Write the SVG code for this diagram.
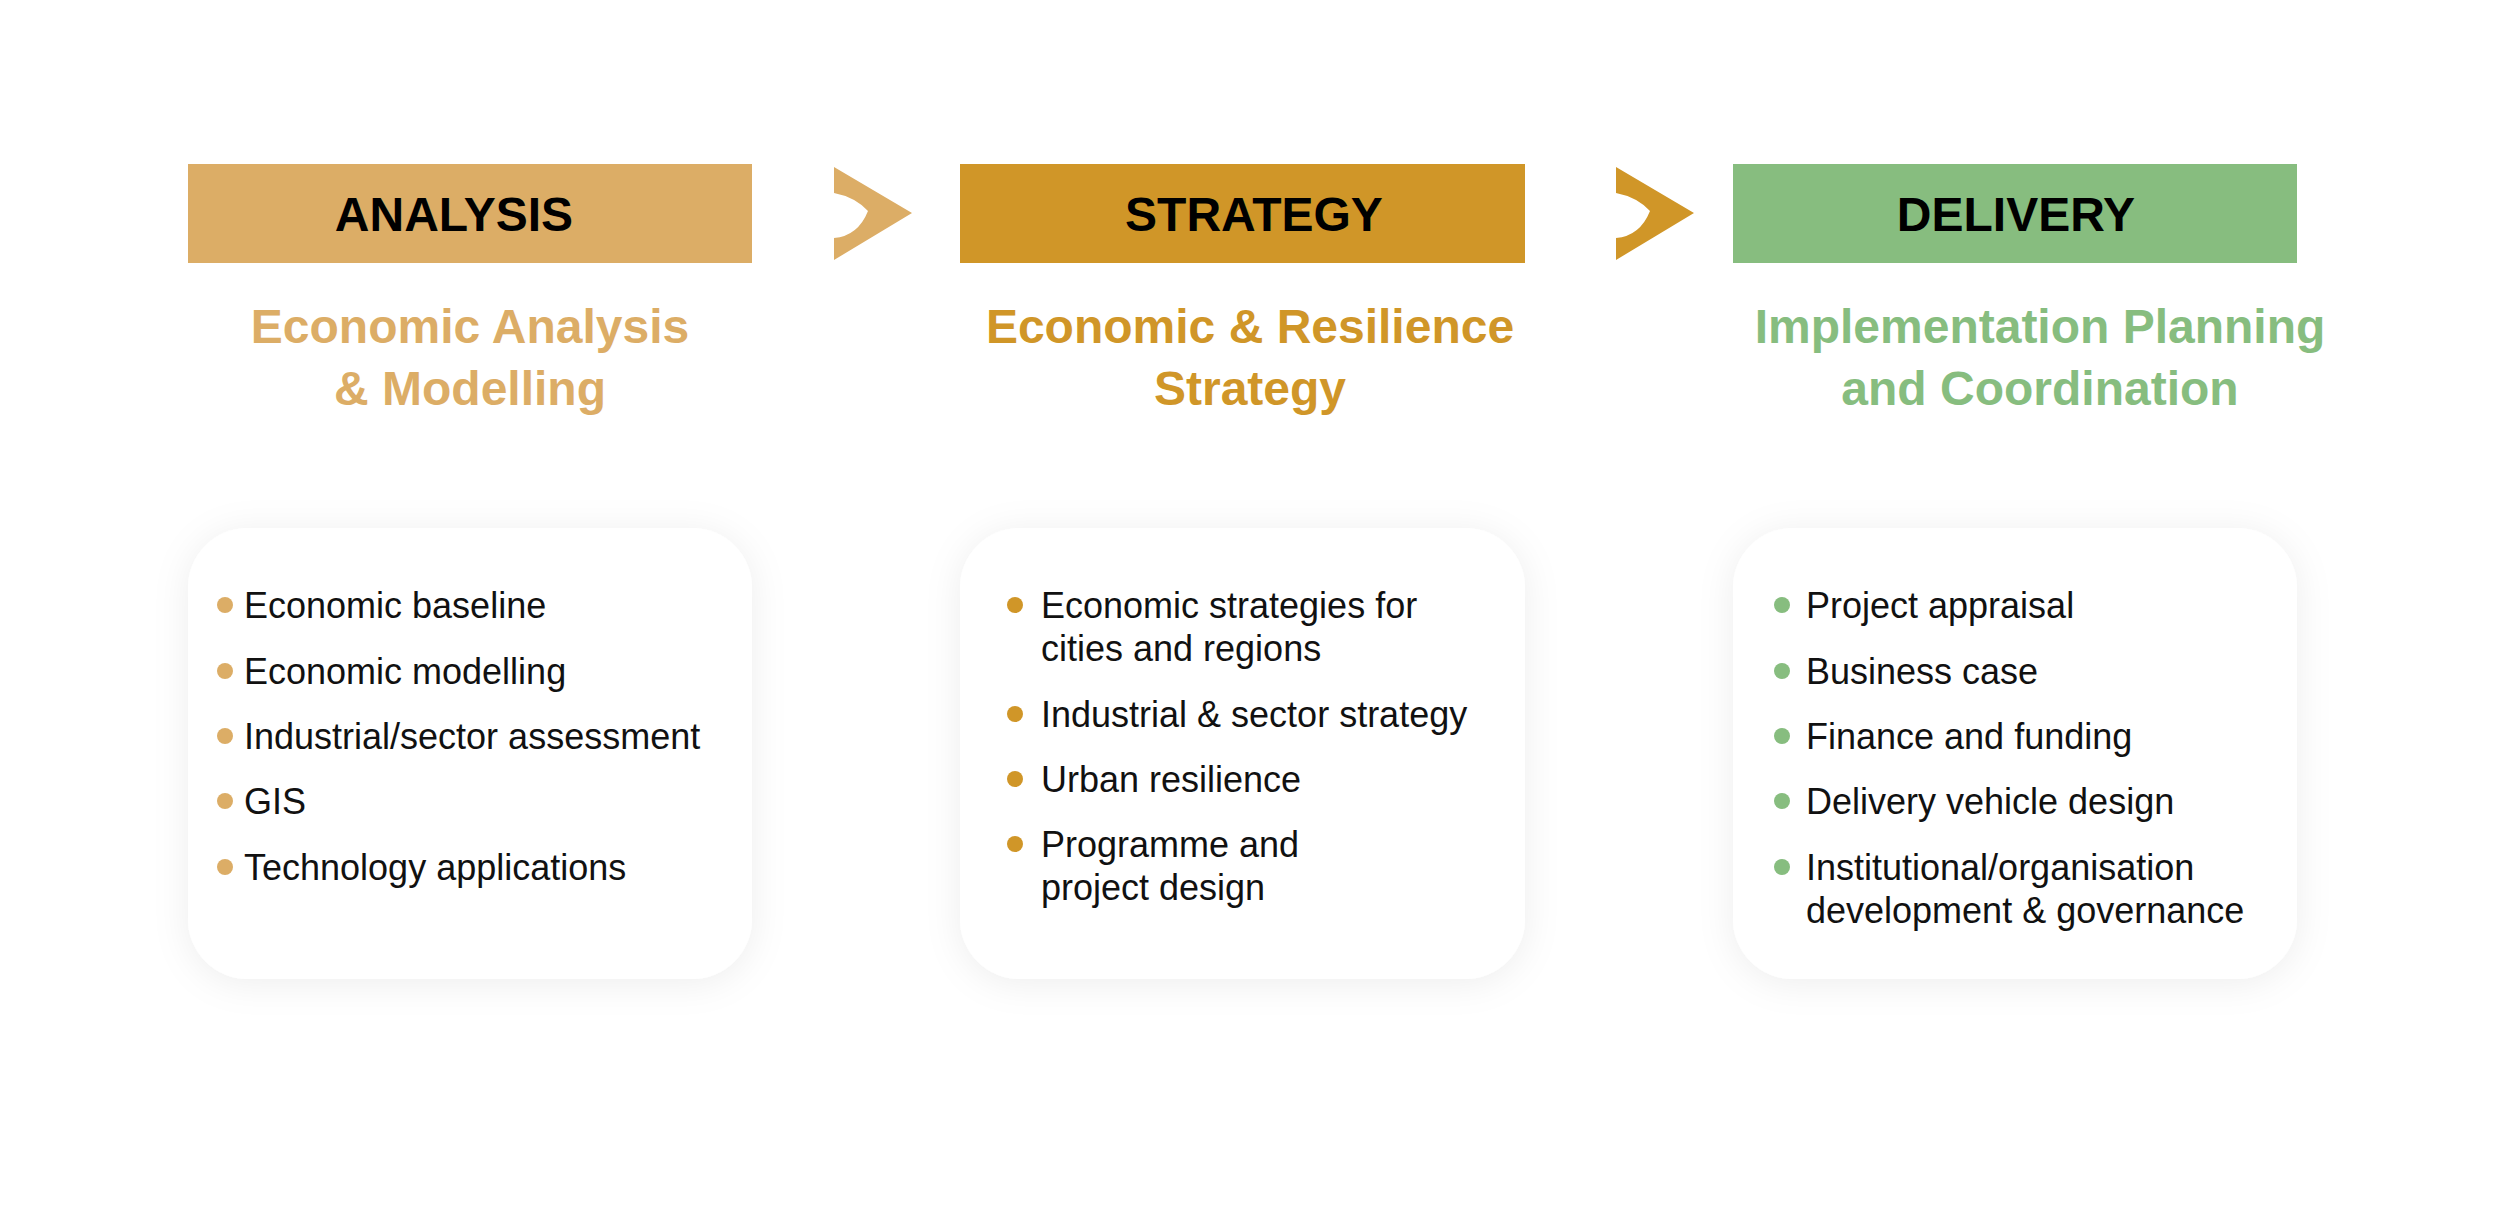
<svg xmlns="http://www.w3.org/2000/svg" width="2500" height="1213" viewBox="0 0 2500 1213">
<style>
.ban{font-family:"Liberation Sans",Arial,sans-serif;font-weight:bold;font-size:48px;fill:#000;text-anchor:middle}
.sub{font-family:"Liberation Sans",Arial,sans-serif;font-weight:bold;font-size:48px;text-anchor:middle}
.it{font-family:"Liberation Sans",Arial,sans-serif;font-size:36px;fill:#111}
.card{fill:#fff;filter:url(#sh)}
.c1{fill:#dcad66}.c2{fill:#d09628}.c3{fill:#87bd7f}
</style>
<defs>
<filter id="sh" x="-20%" y="-20%" width="140%" height="140%"><feDropShadow dx="0" dy="4" stdDeviation="18" flood-color="#000" flood-opacity="0.07"/></filter>
</defs>
<rect width="2500" height="1213" fill="#fff"/>
<g id="connectors">
<path class="c1" d="M834,167 L912,213 L834,260 L834,238 Q858,236 868,211 Q855,197 834,193 Z"/>
<path class="c2" d="M1616,167 L1694,213 L1616,260 L1616,238 Q1640,236 1650,211 Q1637,197 1616,193 Z"/>
</g>
<g id="analysis">
<rect class="c1" x="188" y="164" width="564" height="99"/>
<text class="ban" x="454" y="231">ANALYSIS</text>
<text class="sub c1" x="470" y="343">Economic Analysis</text>
<text class="sub c1" x="470" y="405">&amp; Modelling</text>
<rect class="card" x="188" y="528" width="564" height="451" rx="60"/>
<g class="c1"><circle cx="225" cy="605" r="8"/><circle cx="225" cy="671" r="8"/><circle cx="225" cy="736" r="8"/><circle cx="225" cy="801" r="8"/><circle cx="225" cy="867" r="8"/></g>
<text class="it" x="244" y="618">Economic baseline</text>
<text class="it" x="244" y="684">Economic modelling</text>
<text class="it" x="244" y="749">Industrial/sector assessment</text>
<text class="it" x="244" y="814">GIS</text>
<text class="it" x="244" y="880">Technology applications</text>
</g>
<g id="strategy">
<rect class="c2" x="960" y="164" width="565" height="99"/>
<text class="ban" x="1254" y="231">STRATEGY</text>
<text class="sub c2" x="1250" y="343">Economic &amp; Resilience</text>
<text class="sub c2" x="1250" y="405">Strategy</text>
<rect class="card" x="960" y="528" width="565" height="451" rx="60"/>
<g class="c2"><circle cx="1015" cy="605" r="8"/><circle cx="1015" cy="714" r="8"/><circle cx="1015" cy="779" r="8"/><circle cx="1015" cy="844" r="8"/></g>
<text class="it" x="1041" y="618">Economic strategies for</text>
<text class="it" x="1041" y="661">cities and regions</text>
<text class="it" x="1041" y="727">Industrial &amp; sector strategy</text>
<text class="it" x="1041" y="792">Urban resilience</text>
<text class="it" x="1041" y="857">Programme and</text>
<text class="it" x="1041" y="900">project design</text>
</g>
<g id="delivery">
<rect class="c3" x="1733" y="164" width="564" height="99"/>
<text class="ban" x="2016" y="231">DELIVERY</text>
<text class="sub c3" x="2040" y="343">Implementation Planning</text>
<text class="sub c3" x="2040" y="405">and Coordination</text>
<rect class="card" x="1733" y="528" width="564" height="451" rx="60"/>
<g class="c3"><circle cx="1782" cy="605" r="8"/><circle cx="1782" cy="671" r="8"/><circle cx="1782" cy="736" r="8"/><circle cx="1782" cy="801" r="8"/><circle cx="1782" cy="867" r="8"/></g>
<text class="it" x="1806" y="618">Project appraisal</text>
<text class="it" x="1806" y="684">Business case</text>
<text class="it" x="1806" y="749">Finance and funding</text>
<text class="it" x="1806" y="814">Delivery vehicle design</text>
<text class="it" x="1806" y="880">Institutional/organisation</text>
<text class="it" x="1806" y="923">development &amp; governance</text>
</g>
</svg>
